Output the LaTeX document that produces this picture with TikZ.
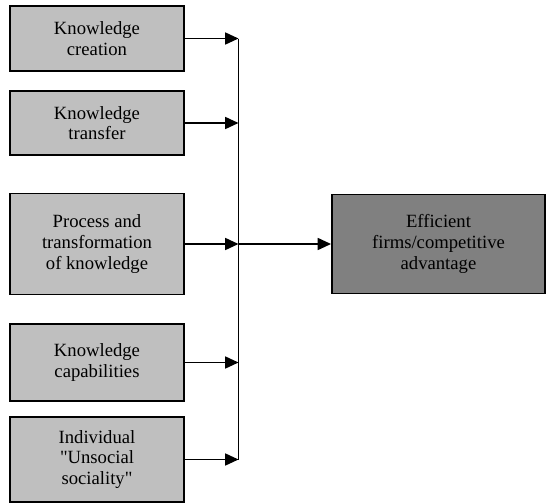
\documentclass[tikz,border=0pt]{standalone}
\usepackage{fontspec}
\newfontfamily\boxfont{Liberation Serif}
\usetikzlibrary{arrows.meta,positioning,calc}

\tikzset{
    factor/.style={draw,line width=1.2pt,fill=black!25,align=center,
        minimum width=130.5pt,inner sep=2pt,
        font=\boxfont\fontsize{14}{15.5}\selectfont},
    result/.style={factor,fill=black!50,minimum width=160pt},
    arr/.style={-{Triangle[length=10pt,width=9pt]},line width=1.2pt}
}

\begin{document}
\begin{tikzpicture}[x=0.75pt,y=-0.75pt,line width=1.2pt]
    \useasboundingbox (0,0) rectangle (547,504);
    \coordinate (bus) at (238.5,0);

    \node[factor,minimum height=48.75pt] (creation) at (97,38.5) {Knowledge\\creation};
    \node[factor,minimum height=48pt] (transfer) at (97,123) {Knowledge\\transfer};
    \node[factor,minimum height=75.75pt] (process) at (97,244) {Process and\\transformation\\of knowledge};
    \node[factor,minimum height=57.75pt] (capab) at (97,362.5) {Knowledge\\capabilities};
    \node[factor,minimum height=63.75pt] (unsocial) at (97,459.5) {Individual\\"Unsocial\\sociality"};
    \node[result,minimum height=74.25pt] (firms) at (438.5,244) {Efficient\\firms/competitive\\advantage};

    \draw[arr] (creation.east) -- (creation.east -| bus);
    \draw[arr] (transfer.east) -- (transfer.east -| bus);
    \draw[arr] (process.east) -- (process.east -| bus);
    \draw[arr] (capab.east) -- (capab.east -| bus);
    \draw[arr] (unsocial.east) -- (unsocial.east -| bus);

    \draw (creation.east -| bus) -- (unsocial.east -| bus);
    \draw[arr] (process.east -| bus) -- (firms.west);
\end{tikzpicture}
\end{document}
